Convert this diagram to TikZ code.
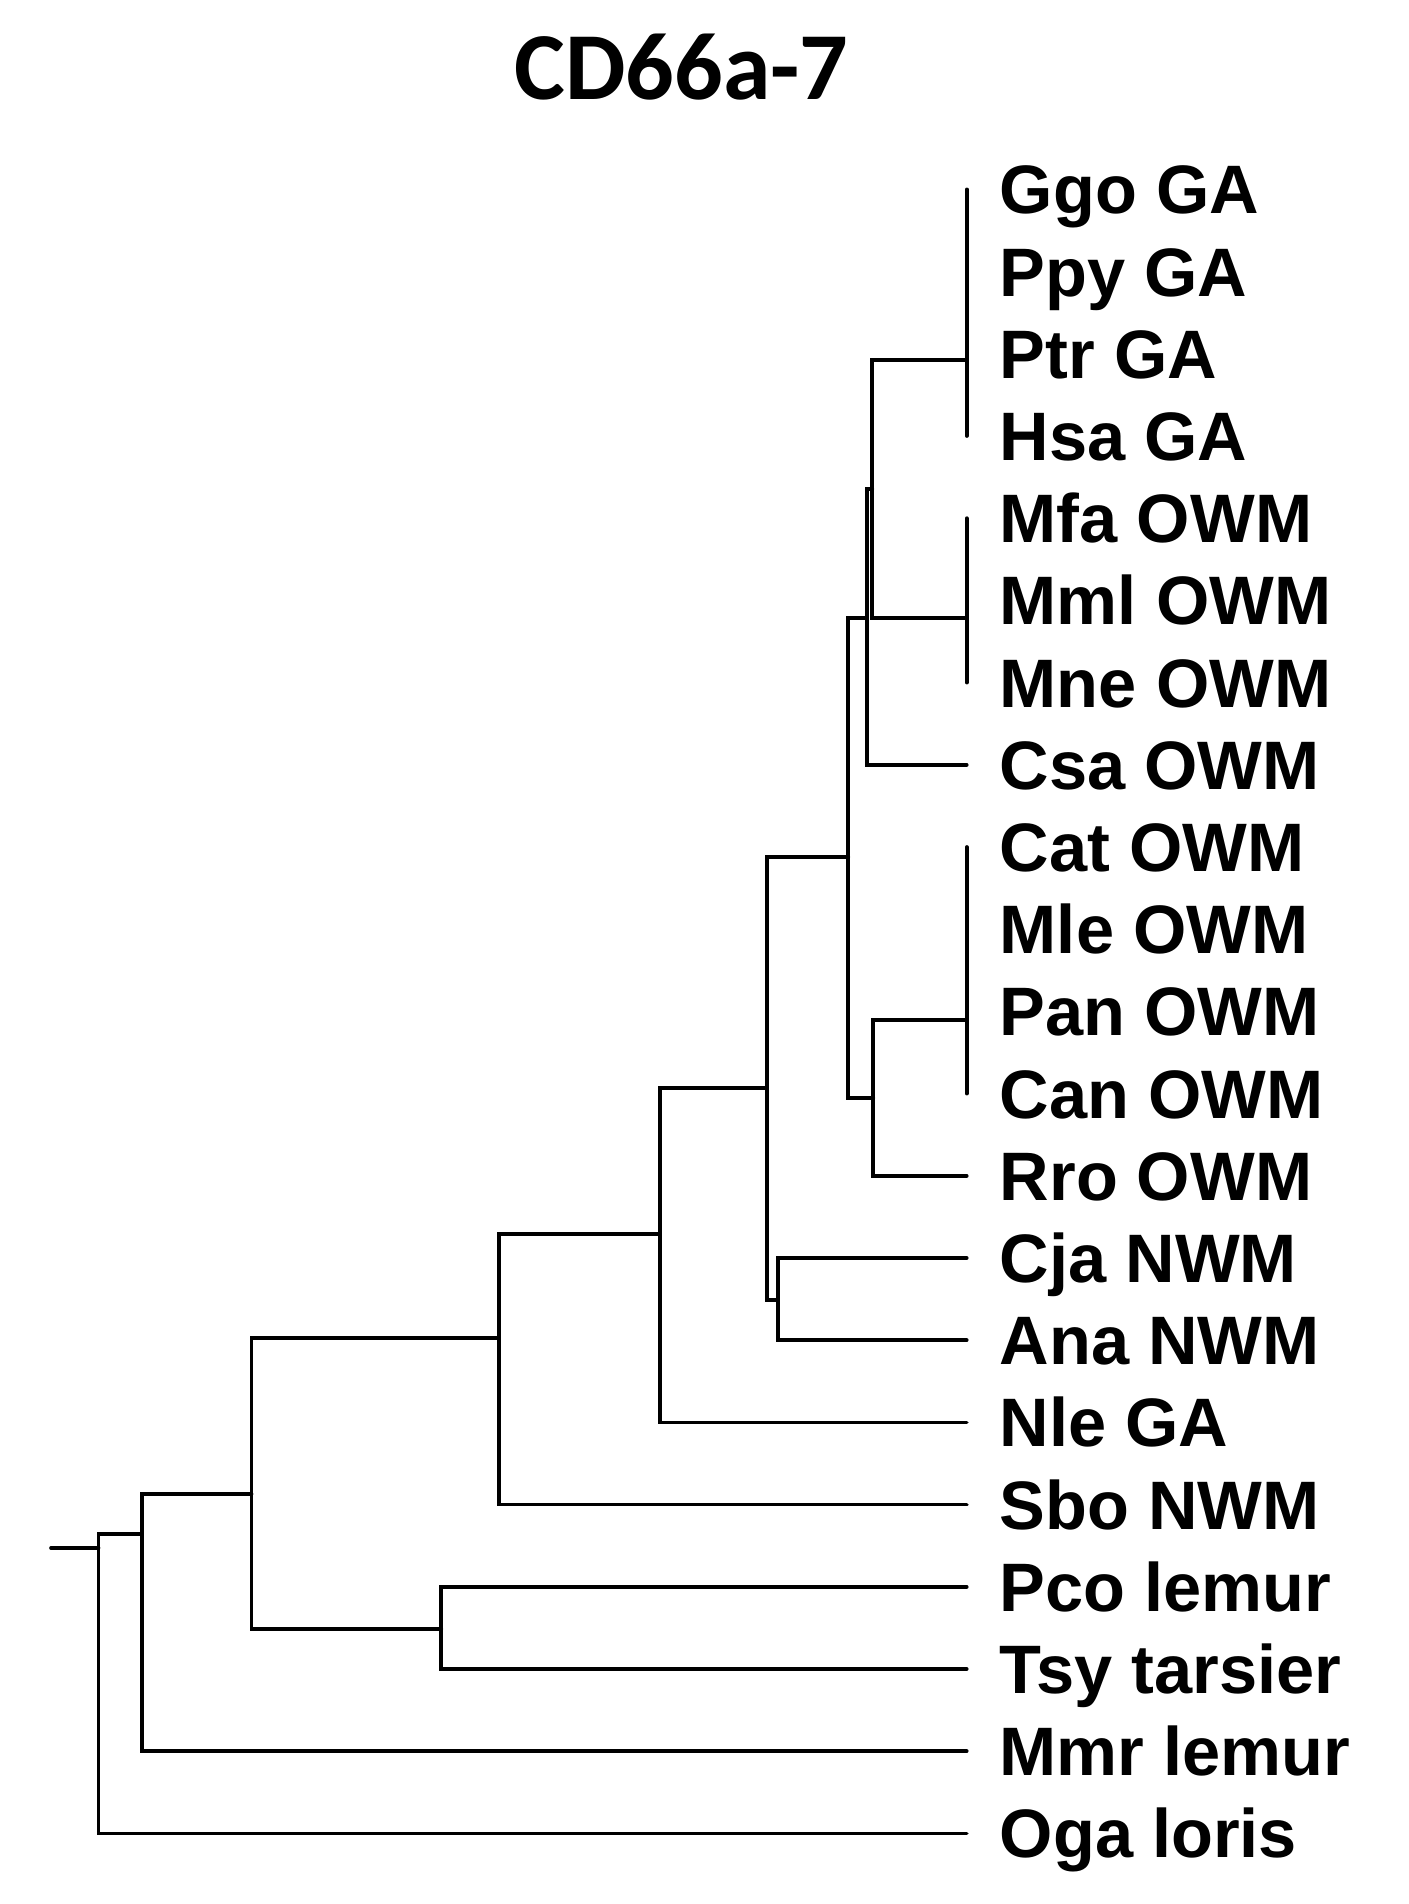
\documentclass[tikz,border=0pt]{standalone}
\usepackage{fontspec}
\setmainfont{Liberation Sans}
\newfontfamily\titlefont{Carlito}
\usepackage{tikz}
\usetikzlibrary{positioning}

\begin{document}
\begin{tikzpicture}[x=0.01cm, y=-0.01cm, line width=1.05pt, line cap=round,
    taxon/.style={font=\bfseries\fontsize{19.5}{23}\selectfont, inner sep=0pt, anchor=base west},
    heading/.style={font=\titlefont\bfseries\fontsize{27.3}{32}\selectfont, inner sep=0pt, anchor=base}]
    \useasboundingbox (0,0) rectangle (1408,1904);

    % Title
    \node[heading] (title) at (681.5,100) {CD66a-7};

    % Leaf tips and labels
    \foreach \i/\lab/\nm in {0/Ggo GA/ggo, 1/Ppy GA/ppy, 2/Ptr GA/ptr, 3/Hsa GA/hsa,
        4/Mfa OWM/mfa, 5/Mml OWM/mml, 6/Mne OWM/mne, 7/Csa OWM/csa,
        8/Cat OWM/cat, 9/Mle OWM/mle, 10/Pan OWM/pan, 11/Can OWM/can,
        12/Rro OWM/rro, 13/Cja NWM/cja, 14/Ana NWM/ana, 15/Nle GA/nle,
        16/Sbo NWM/sbo, 17/Pco lemur/pco, 18/Tsy tarsier/tsy,
        19/Mmr lemur/mmr, 20/Oga loris/oga} {
        \pgfmathsetmacro\ry{189.4+82.2*\i}
        \coordinate (t\nm) at (966.7,\ry);
        \node[taxon] (l\nm) at (998,\ry+24.5) {\lab};
    }

    % Internal nodes
    \coordinate (ga) at (966.7,360);
    \coordinate (owma) at (966.7,618);
    \coordinate (owmb) at (966.7,1020);
    \coordinate (n1) at (872.3,489);
    \coordinate (n2) at (866.7,618);
    \coordinate (n3) at (848.3,857);
    \coordinate (n5) at (873.3,1098);
    \coordinate (n4) at (766.7,1088);
    \coordinate (n7) at (778,1300);
    \coordinate (n6) at (659.7,1234);
    \coordinate (n8) at (499,1338);
    \coordinate (n10) at (441.3,1629);
    \coordinate (n9) at (251.5,1494);
    \coordinate (n11) at (141.8,1534);
    \coordinate (root) at (98.5,1548);
    \coordinate (stub) at (51,1548);

    % Polytomy bars
    \draw (tggo) -- (thsa);
    \draw (tmfa) -- (tmne);
    \draw (tcat) -- (tcan);

    % Branches
    \draw (n1) |- (ga);
    \draw (n1) |- (owma);
    \draw (n2) |- (n1);
    \draw (n2) |- (tcsa);
    \draw (n3) |- (n2);
    \draw (n3) |- (n5);
    \draw (n5) |- (owmb);
    \draw (n5) |- (trro);
    \draw (n4) |- (n3);
    \draw (n4) |- (n7);
    \draw (n7) |- (tcja);
    \draw (n7) |- (tana);
    \draw (n6) |- (n4);
    \draw (n6) |- (tnle);
    \draw (n8) |- (n6);
    \draw (n8) |- (tsbo);
    \draw (n10) |- (tpco);
    \draw (n10) |- (ttsy);
    \draw (n9) |- (n8);
    \draw (n9) |- (n10);
    \draw (n11) |- (n9);
    \draw (n11) |- (tmmr);
    \draw (root) |- (n11);
    \draw (root) |- (toga);
    \draw (stub) -- (root);
\end{tikzpicture}
\end{document}
